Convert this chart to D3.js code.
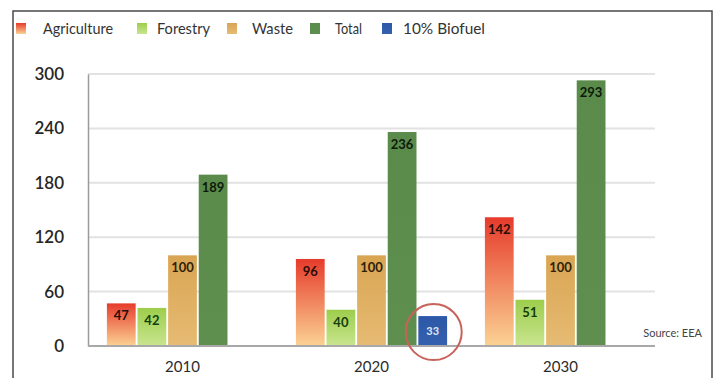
<!DOCTYPE html>
<html>
<head>
<meta charset="utf-8">
<script src="https://cdn.jsdelivr.net/npm/d3@7/dist/d3.min.js"></script>
<style>
  html, body { margin: 0; padding: 0; background: #fff; }
  svg { display: block; }
  text { font-family: Lato, "Open Sans", sans-serif; }
</style>
</head>
<body>
<svg id="chart" width="717" height="378"></svg>
<script>
// Emissions-savings potential by source (EEA)
const years = ["2010", "2020", "2030"];
const seriesNames = ["Agriculture", "Forestry", "Waste", "Total", "10% Biofuel"];
const agriculture = [47, 96, 142];
const forestry = [42, 40, 51];
const waste = [100, 100, 100];
const total = [189, 236, 293];
const biofuel = [null, 33, null];
const yTicks = [0, 60, 120, 180, 240, 300];

const seriesValues = [agriculture, forestry, waste, total, biofuel];

const colors = {
  "Agriculture": ["#e63b2c", "#fbd293"],
  "Forestry": ["#9dcd4c", "#c9e58f"],
  "Waste": ["#d9a553", "#e6bb73"],
  "Total": ["#5a8b4b", "#5e8f4e"],
  "10% Biofuel": ["#2c58a8", "#3460ae"]
};
const labelColors = {
  "Agriculture": "#2a0d08",
  "Forestry": "#12400c",
  "Waste": "#2e2108",
  "Total": "#0d1a0a",
  "10% Biofuel": "#dfe7f7"
};

const svg = d3.select("#chart");
const W = 717, H = 378;
const margin = { left: 88, right: 62, top: 74, bottom: 32 };

// outer frame
svg.append("rect")
  .attr("x", 13).attr("y", 11)
  .attr("width", 699).attr("height", 380)
  .attr("fill", "#fff")
  .attr("stroke", "#4a4a4a").attr("stroke-width", 1.5);

const defs = svg.append("defs");
seriesNames.forEach((s, i) => {
  const g = defs.append("linearGradient")
    .attr("id", "grad" + i)
    .attr("x1", 0).attr("y1", 0).attr("x2", 0).attr("y2", 1);
  g.append("stop").attr("offset", "0%").attr("stop-color", colors[s][0]);
  g.append("stop").attr("offset", "100%").attr("stop-color", colors[s][1]);
});

const x0 = d3.scaleBand()
  .domain(years)
  .range([margin.left, W - margin.right])
  .paddingInner(0.2)
  .paddingOuter(0.1);

const x1 = d3.scaleBand()
  .domain(seriesNames)
  .range([0, x0.bandwidth()])
  .paddingInner(0.06);

const y = d3.scaleLinear()
  .domain([0, 300])
  .range([H - margin.bottom, margin.top]);

// gridlines
svg.append("g")
  .selectAll("line")
  .data(yTicks.filter(t => t > 0))
  .join("line")
  .attr("x1", margin.left).attr("x2", W - margin.right)
  .attr("y1", d => y(d)).attr("y2", d => y(d))
  .attr("stroke", "#e2e2e2").attr("stroke-width", 2);

// y axis
const yAxis = svg.append("g")
  .attr("transform", `translate(${margin.left},0)`)
  .call(d3.axisLeft(y).tickValues(yTicks).tickSize(0).tickPadding(24));
yAxis.select(".domain").attr("stroke", "#9a9a9a").attr("stroke-width", 1.5);
yAxis.selectAll("text")
  .attr("font-size", 17).attr("fill", "#262626")
  .attr("font-weight", 600)
  .attr("font-family", "Lato, sans-serif");

// bars
const groups = svg.append("g")
  .selectAll("g")
  .data(years)
  .join("g")
  .attr("transform", d => `translate(${x0(d)},0)`);

const barData = (yr, yi) => seriesNames
  .map((s, si) => ({ s, si, v: seriesValues[si][yi] }))
  .filter(d => d.v != null);

groups.each(function (yr, yi) {
  const g = d3.select(this);
  const data = barData(yr, yi);
  g.selectAll("rect")
    .data(data)
    .join("rect")
    .attr("x", d => x1(d.s))
    .attr("width", x1.bandwidth())
    .attr("y", d => y(d.v))
    .attr("height", d => y(0) - y(d.v))
    .attr("fill", d => `url(#grad${d.si})`);
  g.selectAll("text")
    .data(data)
    .join("text")
    .attr("x", d => x1(d.s) + x1.bandwidth() / 2)
    .attr("y", d => d.s === "10% Biofuel" ? y(d.v / 2) + 4 : y(d.v) + 17)
    .attr("text-anchor", "middle")
    .attr("font-size", d => d.s === "10% Biofuel" ? 11 : 13)
    .attr("font-weight", "bold")
    .attr("fill", d => labelColors[d.s])
    .text(d => d.v);
});

// x baseline
svg.append("line")
  .attr("x1", margin.left).attr("x2", W - margin.right)
  .attr("y1", y(0)).attr("y2", y(0))
  .attr("stroke", "#a8a8a8").attr("stroke-width", 2);

// x axis labels
const xAxis = svg.append("g")
  .attr("transform", `translate(0,${y(0)})`)
  .call(d3.axisBottom(x0).tickSize(0).tickPadding(15));
xAxis.select(".domain").remove();
xAxis.selectAll("text")
  .attr("font-size", 15).attr("fill", "#2b2b2b")
  .attr("font-family", "Lato, sans-serif");

// highlight circle around the biofuel bar
const bioX = x0("2020") + x1("10% Biofuel") + x1.bandwidth() / 2;
svg.append("circle")
  .attr("cx", bioX + 1)
  .attr("cy", y(biofuel[1] / 2) + 1)
  .attr("r", 28)
  .attr("fill", "none")
  .attr("stroke", "#c9625a")
  .attr("stroke-width", 2);

// source note
svg.append("text")
  .attr("x", 702).attr("y", 337)
  .attr("text-anchor", "end")
  .attr("font-size", 11)
  .attr("fill", "#444")
  .text("Source: EEA");

// legend
const legendPos = [
  { sx: 16, tx: 43, w: 70 },
  { sx: 137, tx: 157, w: 53 },
  { sx: 227, tx: 252, w: 41 },
  { sx: 310, tx: 335, w: 27 },
  { sx: 382, tx: 403, w: 82 }
];
const legend = svg.append("g");
seriesNames.forEach((s, i) => {
  legend.append("rect")
    .attr("x", legendPos[i].sx).attr("y", 23)
    .attr("width", 10).attr("height", 11)
    .attr("fill", `url(#grad${i})`);
  legend.append("text")
    .attr("x", legendPos[i].tx).attr("y", 34)
    .attr("font-size", 16)
    .attr("textLength", legendPos[i].w)
    .attr("lengthAdjust", "spacingAndGlyphs")
    .attr("fill", "#333")
    .text(s);
});
</script>
</body>
</html>
